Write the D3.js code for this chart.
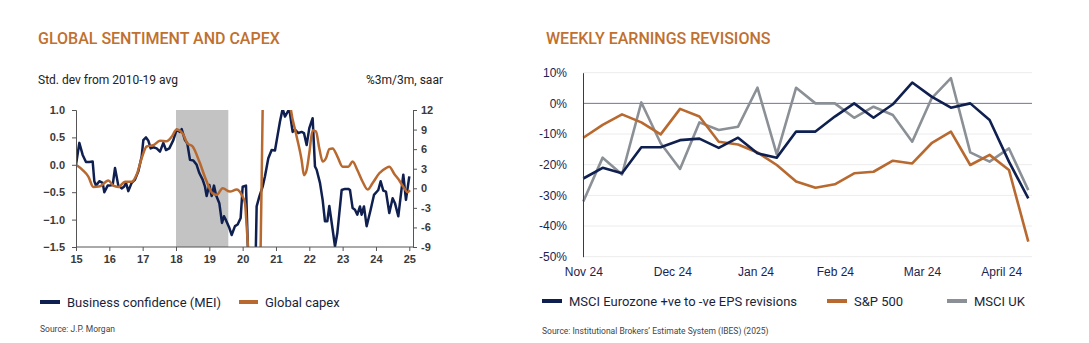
<!DOCTYPE html>
<html>
<head>
<meta charset="utf-8">
<script src="https://cdn.jsdelivr.net/npm/d3@7"></script>
<style>
  body { margin: 0; background: #fff; }
  svg { display: block; font-family: Roboto, "Liberation Sans", sans-serif; }
  .title { fill: #c0702f; font-size: 16px; font-weight: 500; }
  .sub { fill: #222; font-size: 12px; }
  .legend { fill: #1b1f3b; font-size: 13px; }
  .source { fill: #444; font-size: 8.5px; }
  .lax text { font-family: "Liberation Sans", Arial, sans-serif; font-weight: bold; font-size: 11px; fill: #3a3a3a; }
  .lax path, .lax line { stroke: #555; }
  .rax text { font-size: 12px; fill: #1b2350; }
</style>
</head>
<body>
<div id="chart"></div>
<script>
// ---- left chart data: Global sentiment and capex ----
var leftYears = [15, 16, 17, 18, 19, 20, 21, 22, 23, 24, 25];
var leftTicksL = [1.0, 0.5, 0.0, -0.5, -1.0, -1.5];
var leftTicksR = [12, 9, 6, 3, 0, -3, -6, -9];
var shadeBand = [2018.0, 2019.57];

// Business confidence (MEI), std. dev from 2010-19 avg
var businessConfidence = [
  [2015.0, 0.0], [2015.1, 0.4], [2015.2, 0.18], [2015.3, 0.05], [2015.4, 0.05], [2015.5, 0.06],
  [2015.55, -0.3], [2015.6, -0.38], [2015.7, -0.3], [2015.8, -0.33], [2015.85, -0.5], [2015.95, -0.38],
  [2016.0, -0.38], [2016.1, -0.37], [2016.17, -0.06], [2016.27, -0.38], [2016.37, -0.43], [2016.44, -0.4],
  [2016.5, -0.33], [2016.57, -0.48], [2016.67, -0.33], [2016.77, -0.27], [2016.87, -0.12], [2016.97, 0.15],
  [2017.02, 0.45], [2017.1, 0.5], [2017.17, 0.44], [2017.24, 0.3], [2017.32, 0.32], [2017.42, 0.3],
  [2017.52, 0.24], [2017.62, 0.4], [2017.7, 0.27], [2017.8, 0.3], [2017.92, 0.45], [2018.02, 0.64],
  [2018.12, 0.6], [2018.17, 0.65], [2018.27, 0.45], [2018.34, 0.39], [2018.42, 0.09], [2018.52, 0.08],
  [2018.62, 0.0], [2018.7, -0.15], [2018.8, -0.27], [2018.87, -0.4], [2018.92, -0.57], [2019.0, -0.37],
  [2019.07, -0.57], [2019.14, -0.38], [2019.2, -0.55], [2019.3, -0.7], [2019.38, -1.06], [2019.44, -0.94],
  [2019.5, -1.01], [2019.6, -1.15], [2019.67, -1.28], [2019.77, -1.12], [2019.85, -1.09], [2019.94, -0.97],
  [2020.0, -0.4], [2020.1, -0.38], [2020.2, -2.4], [2020.3, -2.8], [2020.38, -2.0], [2020.42, -0.76],
  [2020.5, -0.58], [2020.6, -0.4], [2020.67, -0.21], [2020.77, 0.12], [2020.87, 0.27], [2020.97, 0.26],
  [2021.04, 0.51], [2021.12, 0.79], [2021.2, 1.02], [2021.27, 0.88], [2021.4, 1.02], [2021.5, 0.6],
  [2021.57, 0.64], [2021.67, 0.58], [2021.77, 0.6], [2021.84, 0.58], [2021.92, 0.36], [2022.0, 0.67],
  [2022.1, 0.85], [2022.17, -0.03], [2022.22, -0.09], [2022.32, -0.33], [2022.4, -0.64], [2022.47, -1.03],
  [2022.54, -1.03], [2022.6, -0.75], [2022.7, -1.18], [2022.77, -1.49], [2022.84, -1.25], [2022.97, -0.46],
  [2023.07, -0.44], [2023.17, -0.44], [2023.22, -0.46], [2023.3, -0.79], [2023.37, -0.82], [2023.44, -0.91],
  [2023.52, -0.76], [2023.57, -0.91], [2023.64, -0.76], [2023.72, -1.12], [2023.84, -0.82], [2023.94, -0.55],
  [2024.07, -0.46], [2024.14, -0.3], [2024.22, -0.47], [2024.3, -0.49], [2024.4, -0.88], [2024.5, -0.61],
  [2024.57, -0.7], [2024.67, -0.94], [2024.77, -0.43], [2024.82, -0.18], [2024.9, -0.64], [2025.0, -0.21]
];

// Global capex, %3m/3m saar (right axis)
var globalCapex = [
  [2015.0, 3.6], [2015.2, 2.8], [2015.37, 1.8], [2015.52, 0.2], [2015.72, 0.3], [2015.97, 1.2],
  [2016.12, 0.4], [2016.27, 0.2], [2016.47, 1.0], [2016.67, 1.0], [2016.82, 2.1], [2016.97, 4.6],
  [2017.12, 6.4], [2017.32, 6.6], [2017.52, 7.3], [2017.72, 7.2], [2017.87, 7.9], [2018.02, 9.0],
  [2018.2, 8.4], [2018.34, 6.9], [2018.5, 6.4], [2018.7, 4.1], [2018.9, 1.3], [2019.1, -0.8],
  [2019.22, -1.0], [2019.4, 0.0], [2019.62, -0.5], [2019.82, -0.2], [2019.97, -1.0], [2020.07, -2.3],
  [2020.12, -5.8], [2020.2, -12], [2020.3, -20], [2020.45, -18], [2020.54, -9], [2020.6, 12],
  [2020.7, 25], [2021.0, 28], [2021.3, 20], [2021.45, 12], [2021.6, 8.4], [2021.77, 4.3],
  [2021.84, 2.0], [2021.92, 2.8], [2022.0, 5.4], [2022.1, 8.9], [2022.2, 8.7], [2022.3, 6.1],
  [2022.4, 4.1], [2022.5, 4.6], [2022.6, 6.0], [2022.7, 6.1], [2022.84, 4.9], [2023.0, 3.3],
  [2023.17, 3.3], [2023.3, 4.1], [2023.44, 2.8], [2023.6, 1.0], [2023.75, -0.2], [2023.9, 0.8],
  [2024.1, 2.3], [2024.3, 3.1], [2024.4, 3.3], [2024.55, 2.2], [2024.7, 1.2], [2024.85, 0.0],
  [2024.95, -0.6], [2025.02, -0.3]
];

// ---- right chart data: Weekly earnings revisions (%) ----
var monthLabels = ["Nov 24", "Dec 24", "Jan 24", "Feb 24", "Mar 24", "April 24"];
var monthWeeks = [0, 4.6, 8.9, 13.0, 17.5, 21.6];
var pctTicks = [10, 0, -10, -20, -30, -40, -50];
var msciEurozone = [-24.5, -21, -22.8, -14.3, -14.3, -12, -11.5, -14.5, -11.2, -16.3, -17.7, -9.2,
  -9.2, -4.3, 0, -4.7, -0.3, 6.8, 2.2, -1.4, 0, -5.4, -19, -31];
var sp500 = [-11.2, -7, -3.6, -6.2, -10.1, -1.8, -4.3, -12.5, -13.4, -16, -20.1, -25.5,
  -27.5, -26.4, -22.8, -22.3, -18.7, -19.6, -13, -9.2, -20.1, -16.8, -21.7, -45.1];
var msciUK = [-32, -17.7, -23.2, 0.3, -13, -21.4, -6.2, -8.7, -7.6, 5.1, -16.6, 5.1,
  0, 0, -4.7, -1.1, -3.8, -12.5, 1.6, 8.2, -16, -19, -14.7, -28.3];

var navy = "#0f1f4f", orange = "#b8692f", grey = "#8b9096";

var svg = d3.select("#chart").append("svg").attr("width", 1089).attr("height", 343);

// ================= LEFT CHART =================
svg.append("text").attr("class", "title").attr("x", 38).attr("y", 44).text("GLOBAL SENTIMENT AND CAPEX");
svg.append("text").attr("class", "sub").attr("x", 38).attr("y", 84).text("Std. dev from 2010-19 avg");
svg.append("text").attr("class", "sub").attr("x", 443).attr("y", 84).attr("text-anchor", "end").text("%3m/3m, saar");

var lx = d3.scaleLinear().domain([2015, 2025]).range([76, 409.3]);
var lyL = d3.scaleLinear().domain([-1.5, 1]).range([247, 110]);
var lyR = d3.scaleLinear().domain([-9, 12]).range([247, 110]);

svg.append("defs").append("clipPath").attr("id", "clipL")
  .append("rect").attr("x", 76).attr("y", 110).attr("width", 413 - 76).attr("height", 137);

svg.append("rect")
  .attr("x", lx(shadeBand[0])).attr("y", lyL(1))
  .attr("width", lx(shadeBand[1]) - lx(shadeBand[0])).attr("height", lyL(-1.5) - lyL(1))
  .attr("fill", "#c3c3c3");

var gL = svg.append("g").attr("clip-path", "url(#clipL)");
gL.append("path").datum(businessConfidence)
  .attr("fill", "none").attr("stroke", navy).attr("stroke-width", 2.5).attr("stroke-linejoin", "round")
  .attr("d", d3.line().x(d => lx(d[0])).y(d => lyL(d[1])));
gL.append("path").datum(globalCapex)
  .attr("fill", "none").attr("stroke", orange).attr("stroke-width", 2.5)
  .attr("d", d3.line().curve(d3.curveMonotoneX).x(d => lx(d[0])).y(d => lyR(d[1])));

svg.append("g").attr("class", "lax").attr("transform", "translate(76,0)")
  .call(d3.axisLeft(lyL).tickValues(leftTicksL).tickFormat(d3.format(".1f")).tickSize(4).tickPadding(7));
svg.append("g").attr("class", "lax").attr("transform", "translate(413,0)")
  .call(d3.axisRight(lyR).tickValues(leftTicksR).tickFormat(d => d).tickSize(4).tickPadding(4));
svg.append("g").attr("class", "lax").attr("transform", "translate(0,247)")
  .call(d3.axisBottom(lx).tickValues(leftYears.map(y => 2000 + y)).tickFormat(d => String(d - 2000)).tickSize(4).tickPadding(4))
  .call(g => g.select(".domain").attr("d", "M76,0H413"));

// legend
svg.append("line").attr("x1", 40).attr("x2", 60).attr("y1", 302).attr("y2", 302).attr("stroke", navy).attr("stroke-width", 4);
svg.append("text").attr("class", "legend").attr("x", 67).attr("y", 307).text("Business confidence (MEI)");
svg.append("line").attr("x1", 239).attr("x2", 258).attr("y1", 302).attr("y2", 302).attr("stroke", orange).attr("stroke-width", 4);
svg.append("text").attr("class", "legend").attr("x", 265).attr("y", 307).text("Global capex");
svg.append("text").attr("class", "source").attr("x", 40).attr("y", 332).text("Source: J.P. Morgan");

// ================= RIGHT CHART =================
svg.append("text").attr("class", "title").attr("x", 546).attr("y", 44).text("WEEKLY EARNINGS REVISIONS");

var rx = d3.scaleLinear().domain([0, 23]).range([583.3, 1028.3]);
var ry = d3.scaleLinear().domain([-50, 10]).range([256.7, 72.7]);

var grid = svg.append("g");
grid.selectAll("line").data(pctTicks.filter(d => d !== 0)).enter().append("line")
  .attr("x1", 583).attr("x2", 1032).attr("y1", d => ry(d)).attr("y2", d => ry(d))
  .attr("stroke", "#ececec").attr("stroke-width", 1);
svg.append("line").attr("x1", 583).attr("x2", 1032).attr("y1", ry(0)).attr("y2", ry(0))
  .attr("stroke", "#6c7898").attr("stroke-width", 1);

var rLine = d3.line().x((d, i) => rx(i)).y(d => ry(d)).curve(d3.curveLinear);
[[msciUK, grey], [sp500, orange], [msciEurozone, navy]].forEach(function (s) {
  svg.append("path").datum(s[0]).attr("fill", "none").attr("stroke", s[1])
    .attr("stroke-width", 2.6).attr("stroke-linejoin", "round").attr("d", rLine);
});

svg.append("g").attr("class", "rax").attr("transform", "translate(583,0)")
  .call(d3.axisLeft(ry).tickValues(pctTicks).tickFormat(d => d + "%").tickSize(0).tickPadding(16))
  .call(g => g.select(".domain").attr("stroke", "#2c3a6b"));
svg.append("g").attr("class", "rax").attr("transform", "translate(0,257)")
  .call(d3.axisBottom(rx).tickValues(monthWeeks).tickFormat((d, i) => monthLabels[i]).tickSize(0).tickPadding(10))
  .call(g => g.select(".domain").remove());

// legend
var rLegend = [["MSCI Eurozone +ve to -ve EPS revisions", navy, 542], ["S&P 500", orange, 827], ["MSCI UK", grey, 947]];
rLegend.forEach(function (d) {
  svg.append("line").attr("x1", d[2]).attr("x2", d[2] + 20).attr("y1", 301).attr("y2", 301).attr("stroke", d[1]).attr("stroke-width", 4);
  svg.append("text").attr("class", "legend").attr("x", d[2] + 27).attr("y", 306).text(d[0]);
});
svg.append("text").attr("class", "source").attr("x", 542).attr("y", 334).text("Source: Institutional Brokers\u2019 Estimate System (IBES) (2025)");
</script>
</body>
</html>
